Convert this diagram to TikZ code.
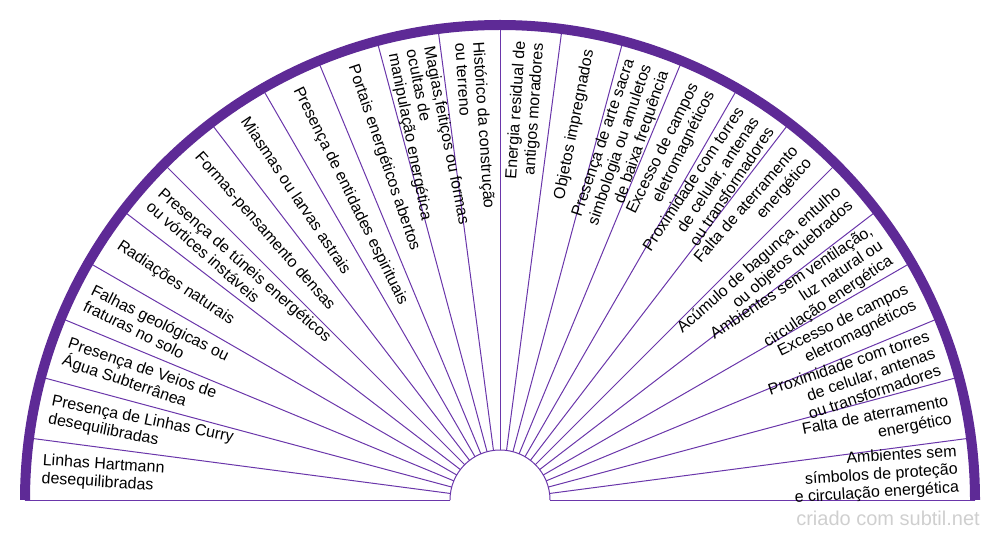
\documentclass[tikz,border=0pt]{standalone}
\usepackage{fontspec}
\setmainfont{Liberation Sans}
\usetikzlibrary{calc}
\definecolor{rim}{HTML}{5E2A96}
\definecolor{spokec}{HTML}{6A36AA}
\definecolor{wmark}{HTML}{CFCFCF}
\newcommand\lblfont{\fontsize{12pt}{13.5pt}\selectfont}
\tikzset{
  lbl/.style={font=\lblfont, inner sep=0pt, text=black},
  lft/.style={lbl, anchor=west, align=left, rotate=#1},
  rgt/.style={lbl, anchor=east, align=right, rotate=#1},
  spoke/.style={draw=spokec, line width=0.75pt},
  rimline/.style={draw=rim, line width=7.5pt}
}
\begin{document}
\begin{tikzpicture}[x=0.75pt,y=0.75pt]
\useasboundingbox (0,0) rectangle (1000,540);
\coordinate (c) at (500,40);
% spokes
\foreach \k in {0,...,24}{
  \draw[spoke] ([shift={(7.5*\k:50)}]c) -- ([shift={(7.5*\k:475)}]c);
}
% inner arc
\draw[spoke] ([shift={(0:50)}]c) arc[start angle=0, end angle=180, radius=50];
% outer rim
\draw[rimline] ([shift={(0:475)}]c) arc[start angle=0, end angle=180, radius=475];
% left labels
\node[lft=-3.75]  (s0)  at ([shift={(176.25:459)}]c) {Linhas Hartmann\\desequilibradas};
\node[lft=-11.25] (s1)  at ([shift={(168.75:459)}]c) {Presença de Linhas Curry\\desequilibradas};
\node[lft=-18.75] (s2)  at ([shift={(161.25:459)}]c) {Presença de Veios de\\Água Subterrânea};
\node[lft=-26.25] (s3)  at ([shift={(153.75:459)}]c) {Falhas geológicas ou\\fraturas no solo};
\node[lft=-33.75] (s4)  at ([shift={(146.25:459)}]c) {Radiações naturais};
\node[lft=-41.25] (s5)  at ([shift={(138.75:459)}]c) {Presença de túneis energéticos\\ou vórtices instáveis};
\node[lft=-48.75] (s6)  at ([shift={(131.25:459)}]c) {Formas-pensamento densas};
\node[lft=-56.25] (s7)  at ([shift={(123.75:459)}]c) {Miasmas ou larvas astrais};
\node[lft=-63.75] (s8)  at ([shift={(116.25:459)}]c) {Presença de entidades espirituais};
\node[lft=-71.25] (s9)  at ([shift={(108.75:459)}]c) {Portais energéticos abertos};
\node[lft=-78.75] (s10) at ([shift={(101.25:459)}]c) {Magias,feitiços ou formas\\ocultas de\\manipulação energética};
\node[lft=-86.25] (s11) at ([shift={(93.75:459)}]c) {Histórico da construção\\ou terreno};
% right labels
\node[rgt=86.25] (s12) at ([shift={(86.25:459)}]c) {Energia residual de\\antigos moradores};
\node[rgt=78.75] (s13) at ([shift={(78.75:459)}]c) {Objetos impregnados};
\node[rgt=71.25] (s14) at ([shift={(71.25:459)}]c) {Presença de arte sacra\\simbologia ou amuletos\\de baixa frequência};
\node[rgt=63.75] (s15) at ([shift={(63.75:459)}]c) {Excesso de campos\\eletromagnéticos};
\node[rgt=56.25] (s16) at ([shift={(56.25:459)}]c) {Proximidade com torres\\de celular, antenas\\ou transformadores};
\node[rgt=48.75] (s17) at ([shift={(48.75:459)}]c) {Falta de aterramento\\energético};
\node[rgt=41.25] (s18) at ([shift={(41.25:459)}]c) {Acúmulo de bagunça, entulho\\ou objetos quebrados};
\node[rgt=33.75] (s19) at ([shift={(33.75:459)}]c) {Ambientes sem ventilação,\\luz natural ou\\circulação energética};
\node[rgt=26.25] (s20) at ([shift={(26.25:459)}]c) {Excesso de campos\\eletromagnéticos};
\node[rgt=18.75] (s21) at ([shift={(18.75:459)}]c) {Proximidade com torres\\de celular, antenas\\ou transformadores};
\node[rgt=11.25] (s22) at ([shift={(11.25:459)}]c) {Falta de aterramento\\energético};
\node[rgt=3.75]  (s23) at ([shift={(3.75:459)}]c) {Ambientes sem\\símbolos de proteção\\e circulação energética};
% watermark
\node[anchor=base east, inner sep=0pt, text=wmark, font=\fontsize{15pt}{17pt}\selectfont] (wm) at (980,15) {criado com subtil.net};
\end{tikzpicture}
\end{document}
